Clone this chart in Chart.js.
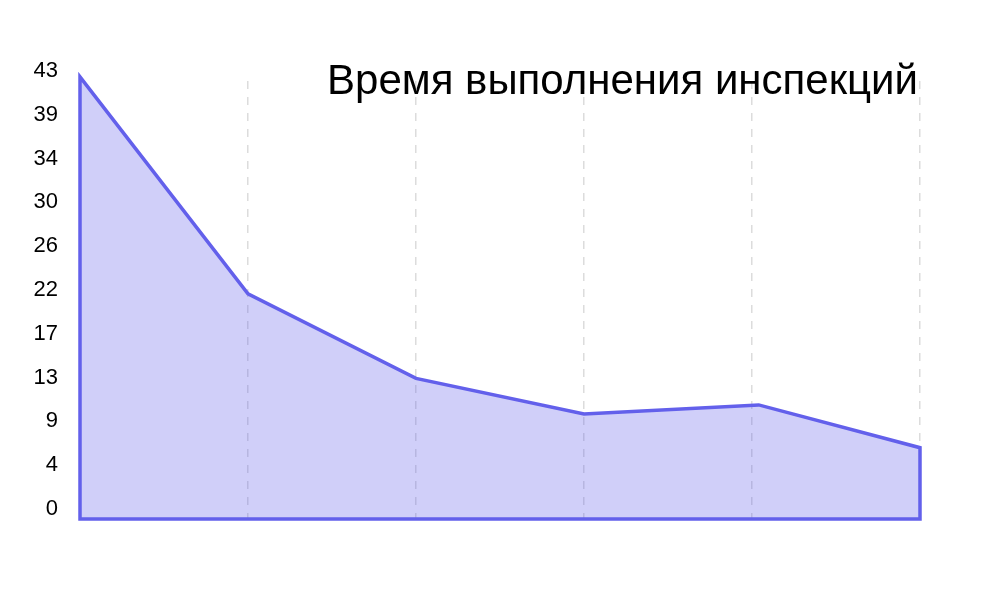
<!DOCTYPE html>
<html lang="ru">
<head>
<meta charset="utf-8">
<title>Время выполнения инспекций</title>
<script src="https://cdn.jsdelivr.net/npm/chart.js@4.4.1/dist/chart.umd.min.js"></script>
<style>
    html, body { margin: 0; padding: 0; background: #fff; }
    #wrap { width: 1000px; height: 600px; }
</style>
</head>
<body>
<div id="wrap"><canvas id="inspChart" width="1000" height="600"></canvas></div>
<script>
// ===== DATA =====
const chartTitle = 'Время выполнения инспекций';
const xPositions = [0, 1, 2, 3, 4.04, 5];
const durations = [43.4, 22.1, 13.8, 10.3, 11.2, 7.0];
const yTickLabels = ['0', '4', '9', '13', '17', '22', '26', '30', '34', '39', '43'];
const yMax = 43;

const lineColor = 'rgb(99, 96, 235)';
const fillColor = 'rgba(99, 96, 235, 0.3)';

// Stroke the whole area outline (top line + right edge + base + left edge)
const areaOutline = {
    id: 'areaOutline',
    afterDatasetsDraw(chart) {
        const pts = chart.getDatasetMeta(0).data;
        if (!pts.length) return;
        const base = chart.scales.y.getPixelForValue(0);
        const ctx = chart.ctx;
        ctx.save();
        ctx.beginPath();
        ctx.moveTo(pts[0].x, pts[0].y);
        pts.forEach(p => ctx.lineTo(p.x, p.y));
        ctx.lineTo(pts[pts.length - 1].x, base);
        ctx.lineTo(pts[0].x, base);
        ctx.closePath();
        ctx.lineWidth = 3.5;
        ctx.lineJoin = 'miter';
        ctx.strokeStyle = lineColor;
        ctx.stroke();
        ctx.restore();
    }
};

// Title drawn over the top-right of the plot
const cornerTitle = {
    id: 'cornerTitle',
    afterDraw(chart) {
        const ctx = chart.ctx;
        ctx.save();
        ctx.font = '400 42px "Liberation Sans", Arial, sans-serif';
        ctx.fillStyle = '#000';
        ctx.textAlign = 'right';
        ctx.textBaseline = 'alphabetic';
        ctx.fillText(chartTitle, chart.chartArea.right - 2, 94);
        ctx.restore();
    }
};

new Chart(document.getElementById('inspChart'), {
    type: 'line',
    data: {
        datasets: [{
            label: chartTitle,
            data: durations.map((v, i) => ({ x: xPositions[i], y: v })),
            borderColor: lineColor,
            backgroundColor: fillColor,
            borderWidth: 0,
            fill: 'origin',
            tension: 0,
            pointRadius: 0,
            clip: 10
        }]
    },
    options: {
        responsive: false,
        animation: false,
        layout: { padding: { top: 81, right: 80, bottom: 81, left: 0 } },
        plugins: {
            legend: { display: false },
            title: { display: false },
            tooltip: { enabled: false }
        },
        scales: {
            x: {
                type: 'linear',
                min: 0,
                max: 5,
                ticks: { display: false, stepSize: 1 },
                grid: {
                    display: true,
                    drawTicks: false,
                    color: '#dcdcdc',
                    lineWidth: 1.5
                },
                border: { display: false, dash: [8, 8] }
            },
            y: {
                min: 0,
                max: yMax,
                afterFit(scale) { scale.width = 80; },
                ticks: {
                    stepSize: yMax / 10,
                    padding: 22,
                    labelOffset: -10,
                    color: '#000',
                    font: { family: '"Liberation Sans", Arial, sans-serif', size: 22 },
                    callback: (v, i) => yTickLabels[i]
                },
                grid: { display: false, drawTicks: false },
                border: { display: false }
            }
        }
    },
    plugins: [areaOutline, cornerTitle]
});
</script>
</body>
</html>
